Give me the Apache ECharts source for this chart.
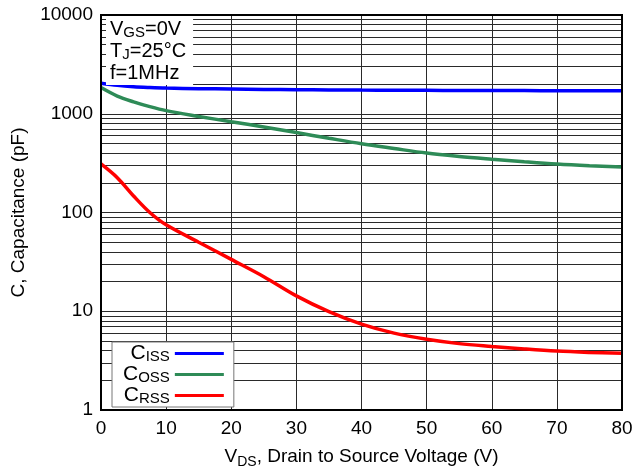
<!DOCTYPE html>
<html>
<head>
<meta charset="utf-8">
<script src="https://cdn.jsdelivr.net/npm/echarts@6/dist/echarts.min.js"></script>
<style>
  html, body { margin: 0; padding: 0; background: #fff; }
  #chart { width: 634px; height: 472px; }
</style>
</head>
<body>
<div id="chart"></div>
<script>
// Drain-source voltage samples (V)
const vds = [0, 2.5, 5, 7.5, 10, 15, 20, 25, 30, 35, 40, 45, 50, 55, 60, 65, 70, 75, 80];

// Capacitances (pF) at each VDS sample
const ciss = [2040, 1940, 1880, 1845, 1820, 1795, 1780, 1762, 1750, 1742, 1735, 1730, 1725, 1721, 1718, 1715, 1712, 1711, 1710];
const coss = [1840, 1510, 1320, 1180, 1075, 940, 830, 735, 645, 565, 497, 445, 400, 370, 347, 327, 310, 298, 289];
const crss = [310, 225, 147, 100, 75, 50, 33.5, 22.4, 14.3, 9.9, 7.4, 6.0, 5.2, 4.7, 4.4, 4.15, 3.95, 3.83, 3.75];

// Axis ticks
const xTicks = [0, 10, 20, 30, 40, 50, 60, 70, 80];
const yDecades = [1, 10, 100, 1000, 10000];
// Minor log grid lines (2..9 in each decade)
const yMinor = [2, 3, 4, 5, 6, 7, 8, 9, 20, 30, 40, 50, 60, 70, 80, 90,
  200, 300, 400, 500, 600, 700, 800, 900, 2000, 3000, 4000, 5000, 6000, 7000, 8000, 9000];

const seriesNames = ['Ciss', 'Coss', 'Crss'];
const seriesSubs = { Ciss: 'ISS', Coss: 'OSS', Crss: 'RSS' };
const seriesColors = ['#0000ff', '#2e8b57', '#ff0000'];
const seriesData = [ciss, coss, crss];

const FONT = 'Liberation Sans, Arial, Helvetica, sans-serif';
const GRID_COLOR = '#2a2a2a';
const FS = 19;     // axis text size
const FS_SUB = 14; // subscript size

const pair = (ys) => vds.map((x, i) => [x, ys[i]]);

const rich = (main, sub, lh) => ({
  n: { fontSize: main, lineHeight: lh, color: '#000', fontFamily: FONT },
  s: { fontSize: sub, lineHeight: lh, color: '#000', fontFamily: FONT, verticalAlign: 'bottom' }
});

const chart = echarts.init(document.getElementById('chart'), null, { renderer: 'canvas' });

const option = {
  animation: false,
  backgroundColor: '#fff',
  textStyle: { fontFamily: FONT, color: '#000' },
  grid: {
    left: 101, right: 12, top: 15, bottom: 62,
    containLabel: false,
    outerBoundsMode: 'none',
    show: true, borderColor: '#000', borderWidth: 2, backgroundColor: 'transparent',
    z: 10
  },
  title: {
    left: 106, top: 15,
    backgroundColor: '#fff',
    padding: [3, 7, 2, 4],
    text: '{n|V}{s|GS}{n|=0V}\n{n|T}{s|J}{n|=25°C}\n{n|f=1MHz}',
    textStyle: { fontFamily: FONT, fontWeight: 'normal', rich: rich(20, 15, 22) },
    z: 20
  },
  legend: {
    orient: 'vertical',
    left: 112, top: 342,
    align: 'right',
    data: seriesNames,
    itemWidth: 49, itemHeight: 3,
    itemGap: 0,
    icon: 'rect',
    backgroundColor: '#fff',
    borderColor: '#777', borderWidth: 1,
    padding: [1, 10, 1, 11],
    selectedMode: false,
    formatter: (name) => '{n|C}{s|' + seriesSubs[name] + '}',
    textStyle: { rich: rich(21, 15, 21) },
    z: 20
  },
  xAxis: {
    type: 'value',
    min: 0, max: 80, interval: 10,
    name: '{n|V}{s|DS}{n|, Drain to Source Voltage (V)}',
    nameLocation: 'middle',
    nameGap: 35,
    nameTextStyle: { rich: rich(FS, FS_SUB, 24) },
    axisLine: { show: true, lineStyle: { color: '#000', width: 2 } },
    axisTick: { show: false },
    axisLabel: {
      fontSize: FS, color: '#000', margin: 9, fontFamily: FONT,
      formatter: (v) => (xTicks.indexOf(v) >= 0 ? String(v) : '')
    },
    splitLine: { show: true, lineStyle: { color: GRID_COLOR, width: 1 } }
  },
  yAxis: {
    type: 'log',
    logBase: 10,
    min: 1, max: 10000,
    name: 'C, Capacitance (pF)',
    nameLocation: 'middle',
    nameGap: 73,
    nameTextStyle: { fontSize: FS, color: '#000', fontFamily: FONT },
    axisLine: { show: true, lineStyle: { color: '#000', width: 2 } },
    axisTick: { show: false },
    axisLabel: {
      fontSize: FS, color: '#000', margin: 8, fontFamily: FONT,
      formatter: (v) => (yDecades.indexOf(Math.round(v)) >= 0 ? String(Math.round(v)) : '')
    },
    splitLine: { show: true, lineStyle: { color: GRID_COLOR, width: 1 } }
  },
  series: [
    {
      // Minor logarithmic grid lines, drawn through the y axis scale
      name: 'minor-grid',
      type: 'line',
      data: [[0, 1], [80, 1]],
      symbol: 'none',
      lineStyle: { opacity: 0 },
      silent: true,
      z: 1,
      markLine: {
        silent: true,
        symbol: ['none', 'none'],
        label: { show: false },
        lineStyle: { type: 'solid', color: GRID_COLOR, width: 1 },
        emphasis: { disabled: true },
        data: yMinor.map((v) => ({ yAxis: v }))
      }
    }
  ].concat(seriesNames.map((name, i) => ({
    name: name,
    type: 'line',
    data: pair(seriesData[i]),
    smooth: 0.35,
    symbol: 'none',
    z: 5,
    color: seriesColors[i],
    lineStyle: { color: seriesColors[i], width: 3.5 }
  })))
};

chart.setOption(option);
</script>
</body>
</html>
